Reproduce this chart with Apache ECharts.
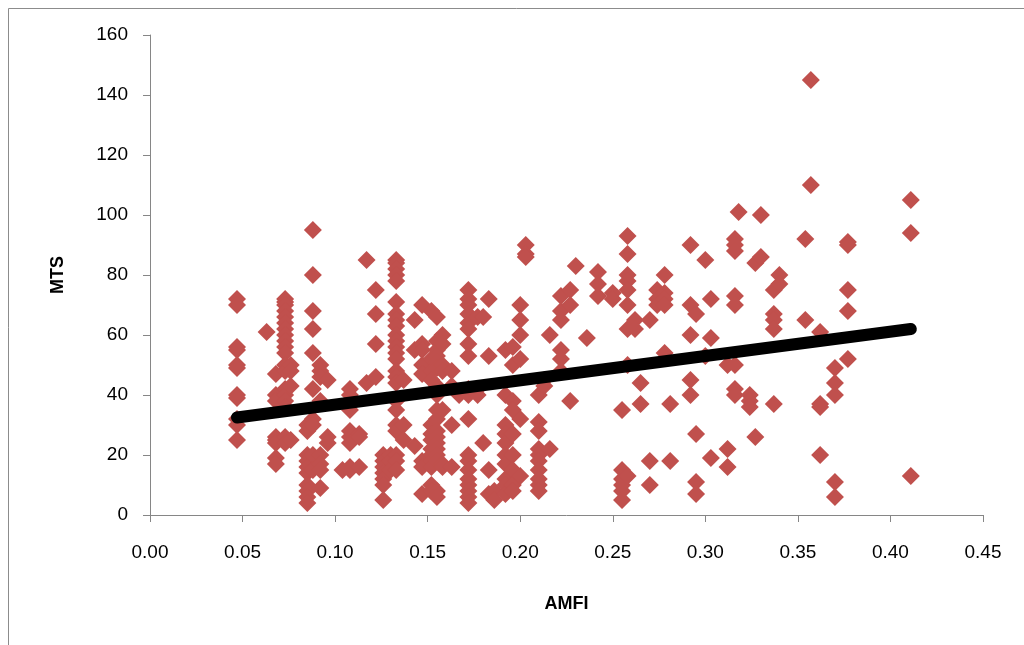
<!DOCTYPE html>
<html>
<head>
<meta charset="utf-8">
<script src="https://cdn.jsdelivr.net/npm/echarts@6/dist/echarts.min.js"></script>
<style>
html, body { margin: 0; padding: 0; background: #fff; }
#chart { width: 1024px; height: 645px; }
</style>
</head>
<body>
<div id="chart"></div>
<script>
// AMFI columns and the MTS values
var amfiCols = [0.047, 0.063, 0.068, 0.073, 0.076, 0.085, 0.088, 0.092, 0.096, 0.104,
    0.108, 0.113, 0.117, 0.122, 0.126, 0.130, 0.133, 0.137, 0.143, 0.147,
    0.152, 0.155, 0.158, 0.163, 0.167, 0.172, 0.177, 0.180, 0.183, 0.186,
    0.192, 0.196, 0.200, 0.203, 0.210, 0.213, 0.216, 0.222, 0.227, 0.230,
    0.236, 0.242, 0.250, 0.255, 0.258, 0.262, 0.265, 0.270, 0.274, 0.278,
    0.281, 0.292, 0.295, 0.300, 0.303, 0.312, 0.316, 0.318, 0.324, 0.327,
    0.330, 0.337, 0.340, 0.354, 0.357, 0.362, 0.370, 0.377, 0.411];
var mtsCols = [
    [72, 70, 56, 55, 50, 49, 40, 39, 32, 30, 25],
    [61],
    [47, 40, 38, 26, 25, 24, 19, 17],
    [72, 71, 70, 68, 66, 64, 62, 60, 58, 56, 54, 50, 48, 42, 40, 38, 36, 26, 24],
    [50, 48, 43, 25],
    [28, 30, 20, 18, 16, 14, 10, 8, 6, 4],
    [95, 80, 68, 62, 54, 42, 32, 30, 20, 15],
    [50, 48, 46, 38, 20, 17, 15, 9],
    [45, 26, 24],
    [15],
    [42, 40, 35, 28, 26, 24, 16, 15],
    [27, 26, 16],
    [85, 44],
    [75, 67, 57, 46],
    [20, 18, 16, 14, 12, 10, 5],
    [20, 18, 15],
    [85, 84, 82, 80, 78, 71, 67, 65, 63, 60, 58, 56, 54, 52, 48, 46, 44, 38, 35, 30, 28, 20, 18, 15],
    [45, 30, 25],
    [65, 55, 23],
    [70, 57, 55, 50, 47, 18, 16, 7],
    [68, 52, 48, 45, 30, 27, 25, 22, 20, 18, 16, 10, 8],
    [66, 58, 55, 53, 51, 49, 43, 40, 35, 32, 28, 26, 24, 22, 20, 18, 8, 6],
    [60, 57, 50, 48, 35, 17, 16],
    [48, 43, 30, 16],
    [40],
    [75, 72, 70, 67, 64, 62, 57, 53, 42, 40, 32, 20, 18, 15, 12, 10, 8, 6, 4],
    [66, 42, 40],
    [66, 24],
    [72, 53, 15, 7],
    [8, 5],
    [55, 40, 30, 27, 24, 20, 17, 12, 10, 7],
    [56, 50, 38, 35, 27, 20, 15, 10, 8],
    [70, 65, 60, 52, 32, 13],
    [90, 87, 86],
    [40, 31, 28, 22, 20, 18, 15, 12, 10, 8],
    [45, 43],
    [60, 22],
    [73, 68, 65, 55, 52, 48],
    [75, 70, 38],
    [83],
    [59],
    [81, 77, 73],
    [74, 72],
    [35, 15, 12, 10, 8, 5],
    [93, 87, 80, 78, 75, 70, 62, 50, 13],
    [65, 62],
    [44, 37],
    [65, 18, 10],
    [75, 72, 70],
    [80, 74, 72, 70, 54],
    [37, 18],
    [90, 70, 60, 45, 40],
    [67, 27, 11, 7],
    [85, 53],
    [72, 59, 19],
    [50, 22, 16],
    [92, 90, 88, 73, 70, 50, 42, 40],
    [101],
    [40, 38, 36],
    [84, 26],
    [100, 86],
    [75, 67, 65, 62, 37],
    [80, 77],
    [92, 65],
    [145, 110],
    [61, 37, 36, 20],
    [49, 44, 40, 11, 6],
    [91, 90, 75, 68, 52],
    [105, 94, 13]
];
// linear trend
var trendIntercept = 28.7;
var trendSlope = 81;

var xTicks = { min: 0, max: 0.45, step: 0.05 };
var yTicks = { min: 0, max: 160, step: 20 };

var points = [];
for (var i = 0; i < amfiCols.length; i++) {
    for (var j = 0; j < mtsCols[i].length; j++) {
        points.push([amfiCols[i], mtsCols[i][j]]);
    }
}
var xMin = Math.min.apply(null, amfiCols);
var xMax = Math.max.apply(null, amfiCols);
var trend = [[xMin, trendIntercept + trendSlope * xMin], [xMax, trendIntercept + trendSlope * xMax]];

var chart = echarts.init(document.getElementById('chart'));
var axisFont = { fontFamily: 'Liberation Sans', fontSize: 19, color: '#000' };
var nameFont = { fontFamily: 'Liberation Sans', fontSize: 18, fontWeight: 'bold', color: '#000' };
var option = {
    animation: false,
    graphic: [{
        type: 'rect',
        shape: { x: 8.5, y: 8.5, width: 1040, height: 660 },
        style: { fill: 'none', stroke: '#8c8c8c', lineWidth: 1 },
        silent: true
    }],
    grid: { left: 150, right: 41, top: 35, bottom: 130 },
    xAxis: {
        type: 'value',
        min: xTicks.min, max: xTicks.max, interval: xTicks.step,
        name: 'AMFI', nameLocation: 'middle', nameGap: 80,
        nameTextStyle: nameFont,
        axisLine: { show: true, lineStyle: { color: '#868686', width: 1 } },
        axisTick: { show: true, length: 7, lineStyle: { color: '#868686' } },
        axisLabel: Object.assign({ margin: 28, formatter: function (v) { return v.toFixed(2); } }, axisFont),
        splitLine: { show: false }
    },
    yAxis: {
        type: 'value',
        min: yTicks.min, max: yTicks.max, interval: yTicks.step,
        name: 'MTS', nameLocation: 'middle', nameGap: 83, nameRotate: 90,
        nameTextStyle: nameFont,
        axisLine: { show: true, lineStyle: { color: '#868686', width: 1 } },
        axisTick: { show: true, length: 7, lineStyle: { color: '#868686' } },
        axisLabel: Object.assign({ margin: 22 }, axisFont),
        splitLine: { show: false }
    },
    series: [{
        type: 'scatter',
        data: points,
        symbol: 'diamond',
        symbolSize: [18, 18],
        itemStyle: { color: '#C0504D', opacity: 1 }
    }, {
        type: 'line',
        data: trend,
        symbol: 'none',
        lineStyle: { color: '#000', width: 12, cap: 'round' },
        z: 5
    }]
};
chart.setOption(option);
</script>
</body>
</html>
